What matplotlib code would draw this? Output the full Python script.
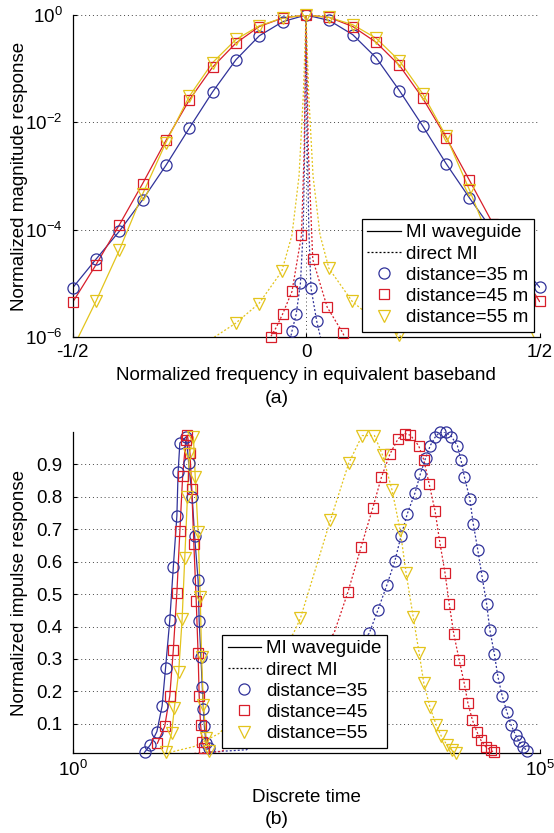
import numpy as np
import matplotlib
matplotlib.use("Agg")
import matplotlib.pyplot as plt
from matplotlib.lines import Line2D

plt.rcParams['font.family'] = ['Liberation Sans', 'DejaVu Sans']
plt.rcParams['font.size'] = 13.5

# ---------------- (a) Frequenzgang ----------------
freq = [-0.5, -0.45, -0.4, -0.35, -0.3, -0.25, -0.2, -0.15, -0.1, -0.05, 0.0,
        0.05, 0.1, 0.15, 0.2, 0.25, 0.3, 0.35, 0.4, 0.45, 0.5]
wg_35 = [8.2e-6, 2.8e-5, 9.3e-5, 3.6e-4, 1.58e-3, 7.8e-3, 3.7e-2, 0.147, 0.41, 0.75, 1.0,
         0.79, 0.43, 0.16, 0.039, 8.5e-3, 1.7e-3, 3.9e-4, 9.5e-5, 2.8e-5, 8.5e-6]
wg_45 = [4.4e-6, 2.2e-5, 1.22e-4, 7.2e-4, 4.6e-3, 2.6e-2, 0.107, 0.30, 0.61, 0.88, 1.0,
         0.90, 0.61, 0.31, 0.115, 0.028, 5.2e-3, 8.3e-4, 1.3e-4, 2.3e-5, 4.6e-6]
wg_55 = [6e-7, 4.6e-6, 4.1e-5, 4.6e-4, 4.2e-3, 3.05e-2, 0.13, 0.35, 0.63, 0.88, 1.0,
         0.90, 0.66, 0.37, 0.14, 0.034, 5.5e-3, 5.5e-4, 4.5e-5, 4.8e-6, 6e-7]

# direct MI: Linienverlauf
dir35_f = [-0.034, -0.030, -0.021, -0.012, -0.006, -0.003, 0.0, 0.003, 0.006, 0.0106, 0.023, 0.032]
dir35_v = [9e-7, 1.3e-6, 2.7e-6, 1.0e-5, 1e-4, 3e-3, 1.0, 3e-3, 1e-4, 8.2e-6, 1.95e-6, 9e-7]
dir45_f = [-0.08, -0.076, -0.064, -0.05, -0.03, -0.0098, -0.004, 0.0, 0.005, 0.0144, 0.0453, 0.0785, 0.085]
dir45_v = [9e-7, 1.0e-6, 1.5e-6, 2.7e-6, 7.1e-6, 7.9e-5, 3e-3, 1.0, 3e-3, 2.8e-5, 3.6e-6, 1.2e-6, 9e-7]
dir55_f = [-0.21, -0.196, -0.151, -0.101, -0.052, -0.03, -0.015, -0.006, 0.0,
           0.006, 0.015, 0.03, 0.049, 0.099, 0.149, 0.199, 0.21]
dir55_v = [8e-7, 1e-6, 1.8e-6, 4.2e-6, 1.67e-5, 8e-5, 1e-3, 3e-2, 1.0,
           3e-2, 1e-3, 8e-5, 1.9e-5, 4.6e-6, 2.0e-6, 1.1e-6, 9e-7]
# direct MI: Markerpositionen
dir35_mf = [-0.030, -0.021, -0.012, 0.0106, 0.023]
dir35_mv = [1.3e-6, 2.7e-6, 1.0e-5, 8.2e-6, 1.95e-6]
dir45_mf = [-0.076, -0.064, -0.05, -0.03, -0.0098, 0.0144, 0.0453, 0.0785]
dir45_mv = [1.0e-6, 1.5e-6, 2.7e-6, 7.1e-6, 7.9e-5, 2.8e-5, 3.6e-6, 1.2e-6]
dir55_mf = [-0.151, -0.101, -0.052, 0.049, 0.099, 0.149, 0.199]
dir55_mv = [1.8e-6, 4.2e-6, 1.67e-5, 1.9e-5, 4.6e-6, 2.0e-6, 1.1e-6]

# ---------------- (b) Impulsantwort ----------------
t_wg35 = [5.9, 6.8, 8.0, 9.1, 9.9, 11.0, 12.0, 13.1, 13.5, 14.1, 16.6, 17.5, 19.1, 20.3,
          22.1, 22.7, 23.7, 24.5, 25.2, 25.8, 26.9, 28.7]
h_wg35 = [0.012, 0.035, 0.076, 0.155, 0.271, 0.42, 0.584, 0.741, 0.876, 0.966, 0.986, 0.905, 0.80, 0.678,
          0.543, 0.417, 0.307, 0.215, 0.145, 0.092, 0.04, 0.025]
t_wg45 = [8.1, 9.7, 11.0, 12.0, 13.1, 14.1, 15.1, 16.3, 17.0, 18.1, 18.9, 19.9, 21.1,
          22.1, 22.7, 23.5, 24.5, 25.8]
h_wg45 = [0.04, 0.092, 0.186, 0.328, 0.504, 0.694, 0.863, 0.974, 0.99, 0.934, 0.825, 0.656, 0.48,
          0.317, 0.186, 0.097, 0.043, 0.025]
t_wg55 = [10.1, 11.5, 12.3, 13.7, 14.9, 15.9, 17.0, 17.8, 19.7, 20.6, 22.1, 23.3, 24.1,
          25.2, 27.0, 28.7]
h_wg55 = [0.012, 0.071, 0.148, 0.261, 0.422, 0.61, 0.80, 0.933, 0.985, 0.861, 0.692, 0.492, 0.307,
          0.158, 0.056, 0.015]

t_d35 = [1500, 1860, 2320, 2830, 3280, 3840, 4640, 5300, 6030, 6760, 7620, 8520, 9890, 11400,
         13200, 14400, 15700, 17900, 19500, 21800, 24200, 27100, 29400, 32900, 35800, 39800,
         44600, 49400, 55300, 60400, 65900, 73800]
h_d35 = [0.379, 0.451, 0.528, 0.603, 0.678, 0.748, 0.812, 0.871, 0.92, 0.958, 0.984, 0.999, 1.0, 0.986,
         0.958, 0.914, 0.861, 0.794, 0.717, 0.637, 0.555, 0.471, 0.389, 0.314, 0.246, 0.186,
         0.138, 0.097, 0.066, 0.046, 0.03, 0.017]
t_d45 = [890, 1230, 1640, 2030, 2510, 3060, 3640, 4150, 5070, 5770, 6580, 7620, 8540, 9720, 10800,
         12100, 13800, 15700, 17100, 19100, 21300, 23600, 26400, 30100, 32900]
h_d45 = [0.507, 0.646, 0.766, 0.861, 0.933, 0.979, 0.995, 0.99, 0.958, 0.914, 0.84, 0.756, 0.661, 0.566, 0.469,
         0.376, 0.297, 0.222, 0.164, 0.112, 0.076, 0.049, 0.03, 0.018, 0.012]
t_d55 = [275, 577, 906, 1260, 1710, 2090, 2640, 3220, 3730, 4440, 5150, 5770, 6690, 7820, 8910,
         10200, 11500, 12600]
h_d55 = [0.425, 0.728, 0.904, 0.989, 0.989, 0.928, 0.82, 0.697, 0.564, 0.43, 0.317, 0.225, 0.153,
         0.097, 0.061, 0.035, 0.018, 0.011]
# Ausläufer der direct-MI-Kurven (ohne Marker)
tail35_t = [22, 29, 73, 1500]
tail35_h = [0.008, 0.013, 0.02, 0.379]
tail45_t = [15, 40, 630, 890]
tail45_h = [0.006, 0.015, 0.379, 0.507]
tail55_t = [9, 20, 38, 231, 275]
tail55_h = [0.006, 0.03, 0.072, 0.378, 0.425]

c35 = '#30329a'
c45 = '#d81e2a'
c55 = '#e3c41c'
dot = (0, (1.6, 1.6))
grid_style = dict(color='#444444', linestyle=(0, (1, 3)), linewidth=0.7)


def markers(ax, x, y, color, marker, ylo):
    x = np.asarray(x, dtype=float)
    y = np.asarray(y, dtype=float)
    keep = y >= ylo
    ax.plot(x[keep], y[keep], linestyle='none', marker=marker, ms=8 if marker != 's' else 7,
            mfc='none', mec=color, mew=0.9, clip_on=False, zorder=4)


def style_axes(ax):
    for s in ['top', 'right']:
        ax.spines[s].set_visible(False)
    for s in ['left', 'bottom']:
        ax.spines[s].set_linewidth(0.9)
    ax.tick_params(direction='in', length=3, width=0.8, labelsize=13.5)
    ax.tick_params(axis='y', pad=7)
    ax.tick_params(axis='x', pad=5)
    ax.tick_params(which='minor', length=0)
    ax.set_axisbelow(True)
    ax.grid(True, **grid_style)


def legend_handles():
    return [Line2D([], [], color='k', lw=0.9),
            Line2D([], [], color='k', lw=0.9, linestyle=dot),
            Line2D([], [], linestyle='none', marker='o', ms=8, mfc='none', mec=c35, mew=0.9),
            Line2D([], [], linestyle='none', marker='s', ms=7, mfc='none', mec=c45, mew=0.9),
            Line2D([], [], linestyle='none', marker='v', ms=8, mfc='none', mec=c55, mew=0.9)]


leg_kw = dict(fancybox=False, framealpha=1, edgecolor='k', fontsize=13.5, handlelength=1.8,
              handletextpad=0.25, labelspacing=0.22, borderpad=0.3, borderaxespad=0)

fig = plt.figure(figsize=(5.54, 8.33), dpi=100)

# ---------------- (a) ----------------
ax1 = fig.add_axes([0.1309, 0.5954, 0.843, 0.3866])
ax1.set_yscale('log')
ax1.plot(freq, wg_35, color=c35, lw=0.9)
ax1.plot(freq, wg_45, color=c45, lw=0.9)
ax1.plot(freq, wg_55, color=c55, lw=0.9)
ax1.plot(dir35_f, dir35_v, color=c35, lw=0.9, linestyle=dot)
ax1.plot(dir45_f, dir45_v, color=c45, lw=0.9, linestyle=dot)
ax1.plot(dir55_f, dir55_v, color=c55, lw=0.9, linestyle=dot)
markers(ax1, freq, wg_35, c35, 'o', 1e-6)
markers(ax1, freq, wg_45, c45, 's', 1e-6)
markers(ax1, freq, wg_55, c55, 'v', 1e-6)
markers(ax1, dir35_mf, dir35_mv, c35, 'o', 1e-6)
markers(ax1, dir45_mf, dir45_mv, c45, 's', 1e-6)
markers(ax1, dir55_mf, dir55_mv, c55, 'v', 1e-6)
ax1.set_xlim(-0.5, 0.5)
ax1.set_ylim(1e-6, 1)
ax1.set_xticks([-0.5, 0, 0.5])
ax1.set_xticklabels(['-1/2', '0', '1/2'])
ax1.set_yticks([1e-6, 1e-4, 1e-2, 1e0])
ax1.set_yticklabels([r'$\mathregular{10^{-6}}$', r'$\mathregular{10^{-4}}$',
                     r'$\mathregular{10^{-2}}$', r'$\mathregular{10^{0}}$'])
ax1.yaxis.set_minor_locator(matplotlib.ticker.NullLocator())
style_axes(ax1)
ax1.set_ylabel('Normalized magnitude response')
ax1.yaxis.set_label_coords(-0.095, 0.5)
ax1.set_xlabel('Normalized frequency in equivalent baseband')
ax1.xaxis.set_label_coords(0.5, -0.094)
leg1 = ax1.legend(legend_handles(),
                  ['MI waveguide', 'direct MI', 'distance=35 m', 'distance=45 m', 'distance=55 m'],
                  loc='lower right', bbox_to_anchor=(0.988, 0.016), **leg_kw)
leg1.get_frame().set_linewidth(0.9)
leg1.set_zorder(10)
fig.text(0.5, 1 - 398 / 833, '(a)', ha='center', va='center', fontsize=14)

# ---------------- (b) ----------------
ax2 = fig.add_axes([0.1309, 0.096, 0.843, 0.3854])
ax2.set_xscale('log')
ax2.plot(t_wg35, h_wg35, color=c35, lw=0.9)
ax2.plot(t_wg45, h_wg45, color=c45, lw=0.9)
ax2.plot(t_wg55, h_wg55, color=c55, lw=0.9)
ax2.plot(tail35_t + t_d35, tail35_h + h_d35, color=c35, lw=0.9, linestyle=dot)
ax2.plot(tail45_t + t_d45, tail45_h + h_d45, color=c45, lw=0.9, linestyle=dot)
ax2.plot(tail55_t + t_d55, tail55_h + h_d55, color=c55, lw=0.9, linestyle=dot)
markers(ax2, t_wg35, h_wg35, c35, 'o', 0.01)
markers(ax2, t_wg45, h_wg45, c45, 's', 0.01)
markers(ax2, t_wg55, h_wg55, c55, 'v', 0.01)
markers(ax2, t_d35, h_d35, c35, 'o', 0.01)
markers(ax2, t_d45, h_d45, c45, 's', 0.01)
markers(ax2, t_d55, h_d55, c55, 'v', 0.01)
ax2.set_xlim(1, 1e5)
ax2.set_ylim(0.01, 1.0)
ax2.set_xticks([1, 1e5])
ax2.set_xticklabels([r'$\mathregular{10^{0}}$', r'$\mathregular{10^{5}}$'])
ax2.xaxis.set_minor_locator(matplotlib.ticker.NullLocator())
ax2.set_yticks([0.1, 0.2, 0.3, 0.4, 0.5, 0.6, 0.7, 0.8, 0.9])
style_axes(ax2)
ax2.set_ylabel('Normalized impulse response')
ax2.yaxis.set_label_coords(-0.095, 0.5)
ax2.set_xlabel('Discrete time')
ax2.xaxis.set_label_coords(0.5, -0.112)
leg2 = ax2.legend(legend_handles(),
                  ['MI waveguide', 'direct MI', 'distance=35', 'distance=45', 'distance=55'],
                  loc='lower left', bbox_to_anchor=(0.32, 0.016), **leg_kw)
leg2.get_frame().set_linewidth(0.9)
leg2.set_zorder(10)
fig.text(0.5, 1 - 820 / 833, '(b)', ha='center', va='center', fontsize=14)

fig.savefig('out.png', dpi=100)
